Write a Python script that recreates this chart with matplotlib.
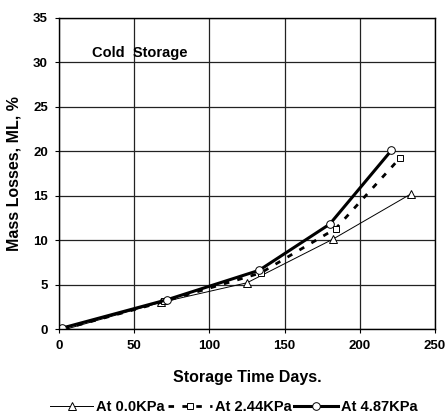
import matplotlib.pyplot as plt

plt.rcParams['font.family'] = ['Liberation Sans', 'DejaVu Sans']
plt.rcParams['font.weight'] = 'bold'

# data
days_0 = [5, 68, 125, 182, 234]
ml_0 = [0.0, 3.0, 5.2, 10.1, 15.2]
days_244 = [3, 70, 134, 184, 227]
ml_244 = [0.0, 3.1, 6.3, 11.3, 19.3]
days_487 = [2, 72, 133, 180, 221]
ml_487 = [0.1, 3.3, 6.6, 11.8, 20.1]

fig = plt.figure(figsize=(4.45, 4.17), dpi=100)
ax = fig.add_axes([59/445, 1 - 329/417, 376/445, 311/417])

ax.plot(days_0, ml_0, color='black', lw=0.7, marker='^', ms=5.5,
        mfc='white', mec='black', mew=0.7, label='At 0.0KPa')
ax.plot(days_244, ml_244, color='black', lw=2, ls=(0, (2, 3)), marker='s', ms=4.5,
        mfc='white', mec='black', mew=0.7, label='At 2.44KPa')
ax.plot(days_487, ml_487, color='black', lw=2.2, marker='o', ms=5.5,
        mfc='white', mec='black', mew=0.7, label='At 4.87KPa')

ax.set_xlim(0, 250)
ax.set_ylim(0, 35)
ax.set_xticks(range(0, 251, 50))
ax.set_yticks(range(0, 36, 5))
ax.grid(True, color='#222222', lw=0.9)
ax.set_axisbelow(True)
for s in ax.spines.values():
    s.set_color('black')
    s.set_linewidth(1)
ax.tick_params(labelsize=9.5, length=3, direction='out', colors='black', pad=5)

ax.set_xlabel('Storage Time Days.', fontsize=11.5, fontweight='bold', labelpad=13)
ax.set_ylabel('Mass Losses, ML, %', fontsize=11.5, fontweight='bold', labelpad=8)
ax.text(22, 30.3, 'Cold  Storage', fontsize=10.5, fontweight='bold', va='bottom')

fig.legend(loc='center', bbox_to_anchor=(0.525, 1 - 407/417), ncol=3, frameon=False,
           fontsize=10.5, handlelength=3.0, handletextpad=0.2, columnspacing=0.2,
           borderpad=0)

fig.savefig('out.png', dpi=100)
